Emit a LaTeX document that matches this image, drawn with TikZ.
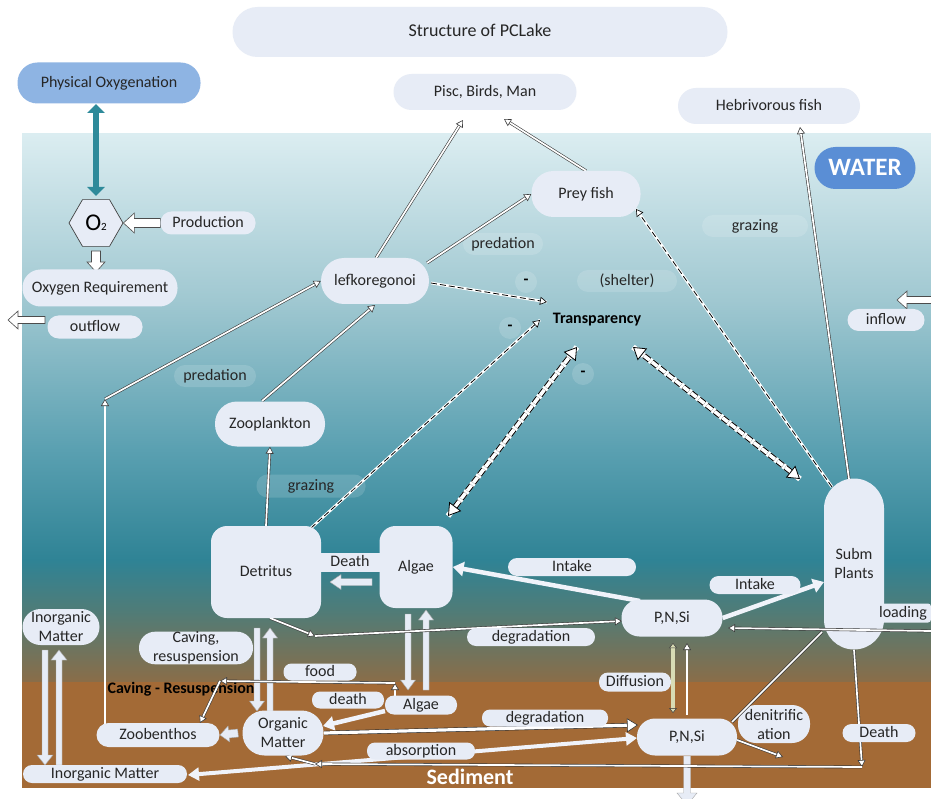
\documentclass[tikz,border=0pt]{standalone}
\usepackage{fontspec}
\setmainfont{Carlito}
\usetikzlibrary{calc,shapes.geometric,arrows.meta}
\definecolor{boxc}{HTML}{E7ECF6}
\definecolor{physc}{HTML}{8EB4E3}
\definecolor{waterc}{HTML}{5A8ED5}
\definecolor{txtc}{HTML}{262626}
\definecolor{linec}{HTML}{3C3C3C}
\definecolor{tealc}{HTML}{2E8A9A}
\definecolor{arrw}{HTML}{F0F3FA}
\definecolor{diffc}{HTML}{D8DCB4}
\definecolor{sedc}{HTML}{A36A36}
\definecolor{w1}{HTML}{DBEDF1}
\definecolor{w2}{HTML}{A0C8D1}
\definecolor{w3}{HTML}{5AA0B1}
\definecolor{w4}{HTML}{2F8395}
\definecolor{w5}{HTML}{4F7C78}
\definecolor{w6}{HTML}{8A6D48}
\pgfdeclareverticalshading{waterbg}{100bp}{color(0bp)=(w6); color(25bp)=(w6); color(31.57bp)=(w5); color(36.13bp)=(w4); color(46.17bp)=(w3); color(59.85bp)=(w2); color(75bp)=(w1); color(100bp)=(w1)}
\pgfdeclarelayer{bg}\pgfdeclarelayer{conn}\pgfdeclarelayer{top}
\pgfsetlayers{bg,conn,main,top}
\newcommand\blkarr[6][]{\draw[#1] ($(#2)!#4!90:(#3)$) -- ($(#3)!#6!(#2)!#4!-90:(#2)$) -- ($(#3)!#6!(#2)!#5!-90:(#2)$) -- (#3) -- ($(#3)!#6!(#2)!#5!90:(#2)$) -- ($(#3)!#6!(#2)!#4!90:(#2)$) -- ($(#2)!#4!-90:(#3)$) -- cycle;}
\tikzset{
 every node/.style={text=txtc, font=\fontsize{16}{19}\selectfont},
 sz/.style 2 args={minimum width=#1pt, minimum height=#2pt},
 box/.style={fill=boxc, rounded corners=#1, inner sep=0pt, text height=12pt, text depth=3pt},
 box/.default=9pt,
 mbox/.style={fill=boxc, rounded corners=#1, inner sep=0pt, align=center},
 faint/.style={fill=white, fill opacity=0.14, text opacity=1, rounded corners=11pt, inner sep=0pt, text height=12pt, text depth=3pt},
 minus/.style={circle, fill=white, fill opacity=0.14, text opacity=1, minimum size=22pt, inner sep=0pt, text=black, font=\fontsize{16}{19}\selectfont\bfseries},
 flow/.style={draw=linec, line width=0.6pt, double=white, double distance=1.7pt, -{Triangle[open, fill=white, length=7pt, width=8pt, line width=0.6pt]}},
 flowl/.style={draw=linec, line width=0.6pt, double=white, double distance=1.7pt},
 dflow/.style={draw=black, line width=0.8pt, dash pattern=on 6pt off 3pt, preaction={draw=white, line width=2.8pt, solid, -}, -{Triangle[open, fill=white, length=7pt, width=8pt, line width=0.6pt]}},
 tdflow/.style={draw=black, line width=1pt, dash pattern=on 7pt off 3pt, double=white, double distance=3.6pt, preaction={draw=white, line width=5.6pt, solid, -}, {Triangle[open, fill=white, length=12pt, width=15pt, line width=0.8pt]}-{Triangle[open, fill=white, length=12pt, width=15pt, line width=0.8pt]}},
 tealarr/.style={draw=tealc, line width=6pt, {Triangle[length=9pt, width=17pt]}-{Triangle[length=9pt, width=17pt]}},
 warr/.style={draw=arrw, line width=4.5pt, -{Triangle[length=11pt, width=14pt]}},
 wdarr/.style={draw=arrw, line width=4pt, {Triangle[length=11pt, width=13pt]}-{Triangle[length=11pt, width=13pt]}},
 harr/.style={draw=black!80, line width=0.6pt, double=white, double distance=3.2pt, -{Triangle[open, fill=white, length=11pt, width=14pt, line width=0.6pt]}},
 dff/.style={draw=linec, line width=0.5pt, double=diffc, double distance=3.4pt, {Triangle[open, fill=diffc, length=5pt, width=8pt, line width=0.5pt]}-{Triangle[open, fill=diffc, length=5pt, width=8pt, line width=0.5pt]}},
 blkw/.style={fill=white, draw=black!70, line width=0.6pt},
 blkl/.style={fill=boxc, draw=black!35, line width=0.4pt},
}
\begin{document}
\begin{tikzpicture}[x=1pt, y=-1pt]
\useasboundingbox (0,0) rectangle (931,799);
\begin{pgfonlayer}{bg}
\fill[white] (0,0) rectangle (931,799);
\shade[shading=waterbg] (22,134) rectangle (931,682);
\fill[sedc] (22,682) rectangle (931,788);
\node[font=\fontsize{16}{19}\selectfont\bfseries, text=black] (cavres) at (181,689) {Caving - Resuspension};
\node[font=\fontsize{22}{26}\selectfont\bfseries, text=white] (sed) at (470,777) {Sediment};
\end{pgfonlayer}

% nodes
\node[box=25pt, sz={495}{50}, font=\fontsize{18}{21}\selectfont] (title) at (480,32) {Structure of PCLake};
\node[box=20pt, sz={183}{41}, fill=physc] (physox) at (109,83) {Physical Oxygenation};
\node[regular polygon, regular polygon sides=6, minimum size=54pt, inner sep=0pt, fill=boxc, draw=black!75, line width=0.7pt, text=black] (o2) at (96,223) {{\fontsize{24}{24}\selectfont O}{\fontsize{11}{11}\selectfont 2}};
\node[box=11pt, sz={95}{23}] (prod) at (208,223) {Production};
\node[box=18pt, sz={155}{37}] (oxreq) at (100,288) {Oxygen Requirement};
\node[box=11pt, sz={95}{23}] (outflow) at (95,327) {outflow};
\node[box=18pt, sz={183}{36}] (pisc) at (485,92) {Pisc, Birds, Man};
\node[box=18pt, sz={182}{36}] (hebr) at (769,106) {Hebrivorous fish};
\node[box=21pt, sz={101}{42}, fill=waterc, text=white, font=\fontsize{25}{28}\selectfont\bfseries, text height=17pt, text depth=1pt] (water) at (865,168) {WATER};
\node[box=22pt, sz={109}{46}] (prey) at (586,194) {Prey fish};
\node[faint, sz={106}{22}] (grazR) at (755,226) {grazing};
\node[faint, sz={80}{22}] (predT) at (503,244) {predation};
\node[box=23pt, sz={108}{46}] (lefk) at (375,281) {lefkoregonoi};
\node[minus] (m1) at (526,282) {-};
\node[faint, sz={100}{22}] (shelter) at (627,281) {(shelter)};
\node[minus] (m2) at (510,328) {-};
\node[font=\fontsize{16}{19}\selectfont\bfseries, text=black] (transp) at (597,320) {Transparency};
\node[minus] (m3) at (583,374) {-};
\node[box=11pt, sz={77}{22}] (inflow) at (886,320) {inflow};
\node[faint, sz={82}{22}] (predL) at (215,376) {predation};
\node[box=22pt, sz={110}{45}] (zoo) at (270,424) {Zooplankton};
\node[faint, sz={109}{23}] (grazL) at (311,486) {grazing};
\node[box=16pt, sz={110}{92}] (det) at (266,572) {Detritus};
\node[box=16pt, sz={73}{82}] (alg) at (416,567) {Algae};
\node[fill=boxc, sz={60}{19}, inner sep=0pt, text height=12pt, text depth=3pt] (deathA) at (350,562) {Death};
\node[box=9pt, sz={128}{18}] (intakeL) at (572,567) {Intake};
\node[box=18pt, sz={101}{37}] (pnsiU) at (672,618) {P,N,Si};
\node[box=9pt, sz={91}{18}] (intakeR) at (755,585) {Intake};
\node[mbox=30pt, sz={60}{171}] (subm) at (854,564) {Subm\\Plants};
\node[box=3pt, sz={56}{19}] (loading) at (903,613) {loading};
\node[box=9pt, sz={128}{18}] (degrU) at (531,637) {degradation};
\node[mbox=16pt, sz={114}{32}] (caving) at (196,648) {Caving,\\resuspension};
\node[box=8pt, sz={73}{17}] (food) at (320,672) {food};
\node[box=9pt, sz={72}{19}] (diff) at (635,682) {Diffusion};
\node[box=8pt, sz={72}{17}] (death2) at (348,700) {death};
\node[box=9pt, sz={72}{19}] (alg2) at (421,705) {Algae};
\node[box=8pt, sz={126}{17}] (degrL) at (545,718) {degradation};
\node[mbox=22pt, sz={81}{45}] (orgm) at (283,733) {Organic\\Matter};
\node[box=12pt, sz={123}{24}] (zoob) at (158,735) {Zoobenthos};
\node[mbox=18pt, sz={72}{38}] (denit) at (774,724) {denitrific\\ation};
\node[box=9pt, sz={73}{18}] (death3) at (879,733) {Death};
\node[box=18pt, sz={100}{37}] (pnsiL) at (687,737) {P,N,Si};
\node[box=8pt, sz={108}{17}] (absorp) at (421,751) {absorption};
\node[mbox=18pt, sz={77}{36}] (inorgT) at (61,627) {Inorganic\\Matter};
\node[box=9pt, sz={164}{18}] (inorgB) at (105,774) {Inorganic Matter};

% helper coordinates
\coordinate (o2s) at ($(o2)+(0,28)$);
\coordinate (oxn) at ($(oxreq)+(-4,-16)$);
\coordinate (ob) at ($(outflow)+(-50,-7)$);
\coordinate (oe) at ($(outflow)+(-87,-7)$);
\coordinate (ib) at ($(inflow)+(46,-20)$);
\coordinate (ie) at ($(inflow)+(11,-20)$);
\coordinate (da) at ($(alg)+(-44,15)$);
\coordinate (dd) at ($(det)+(64,10)$);
\coordinate (do1) at ($(det)+(-9,56)$);
\coordinate (do2) at ($(orgm)+(-26,-22)$);
\coordinate (od1) at ($(orgm)+(-13,-22)$);
\coordinate (od2) at ($(det)+(4,56)$);
\coordinate (aa1) at ($(alg)+(-8,47)$);
\coordinate (aa2) at ($(alg2)+(-13,-15)$);
\coordinate (ab1) at ($(alg2)+(5,-15)$);
\coordinate (ab2) at ($(alg)+(10,43)$);
\coordinate (oz1) at ($(orgm)+(-45,0)$);
\coordinate (oz2) at ($(zoob)+(62,0)$);
\coordinate (pd1) at ($(pnsiL)+(0,19)$);
\coordinate (pd2) at ($(pnsiL)+(0,68)$);
\coordinate (ii1) at ($(inorgT)+(-16,23)$);
\coordinate (ii2) at ($(inorgB)+(-60,-9)$);
\coordinate (ij1) at ($(inorgB)+(-46,-9)$);
\coordinate (ij2) at ($(inorgT)+(-2,23)$);
\coordinate (zb1) at ($(zoob)+(-53,-336)$);
\coordinate (redge) at ($(loading)+(28,18)$);
\coordinate (dc1) at ($(det)+(49,64)$);
\coordinate (f1) at ($(alg2)+(-26,-22)$);
\coordinate (f2) at ($(zoob)+(62,-54)$);
\coordinate (dc) at ($(subm)+(8,203)$);
\coordinate (c3) at ($(orgm)+(32,31)$);
\coordinate (dn) at ($(pnsiL)+(96,20)$);

\begin{pgfonlayer}{conn}
\draw[tealarr] ($(physox)+(-13,21)$) -- ($(o2)+(0,-27)$);
\blkarr[blkw]{prod.west}{o2.east}{4.5pt}{10pt}{11pt}
\blkarr[blkw]{o2s}{oxn}{4.5pt}{9pt}{10pt}
\blkarr[blkw]{ob}{oe}{3.5pt}{9pt}{10pt}
\blkarr[blkw]{ib}{ie}{3.5pt}{9pt}{10pt}
\blkarr[blkl]{da}{dd}{3.5pt}{7.5pt}{11pt}
\blkarr[blkl]{do1}{do2}{3pt}{7.5pt}{10pt}
\blkarr[blkl]{od1}{od2}{3pt}{7.5pt}{10pt}
\blkarr[blkl]{aa1}{aa2}{3pt}{7.5pt}{10pt}
\blkarr[blkl]{ab1}{ab2}{3pt}{7.5pt}{10pt}
\blkarr[blkl]{oz1}{oz2}{4pt}{8pt}{9pt}
\blkarr[blkl]{pd1}{pd2}{3.5pt}{10pt}{12pt}
\blkarr[blkl]{ii1}{ii2}{3pt}{8pt}{10pt}
\blkarr[blkl]{ij1}{ij2}{3pt}{8pt}{10pt}

\draw[flow] ($(lefk)+(1,-23)$) -- ($(pisc)+(-22,28)$);
\draw[flow] ($(lefk)+(52,-18)$) -- (prey.west);
\draw[flow] (prey.north) -- ($(pisc)+(19,27)$);
\draw[flow] ($(subm)+(-5,-85)$) -- ($(hebr)+(31,21)$);
\draw[dflow] ($(subm)+(-22,-77)$) -- ($(prey)+(50,15)$);
\draw[dflow] ($(lefk)+(56,2)$) -- ($(transp)+(-50,-18)$);
\draw[dflow] ($(det)+(45,-44)$) -- ($(transp)+(-57,0)$);
\draw[tdflow] ($(alg)+(32,-51)$) -- ($(transp)+(-20,27)$);
\draw[tdflow] ($(subm)+(-54,-85)$) -- ($(transp)+(36,27)$);
\draw[flow] ($(zoo)+(-8,-23)$) -- ($(lefk)+(0,24)$);
\draw[flow] ($(zoob)+(-53,-9)$) -- (zb1);
\draw[flow] (zb1) -- (lefk.west);
\draw[flow] (det.north) -- (zoo.south);
\draw[warr] ($(pnsiU)+(-32,-17)$) -- (alg.east);
\draw[warr] (pnsiU.east) -- ($(subm)+(-30,18)$);
\draw[flow] ($(det)+(4,46)$) -- (dc1);
\draw[flow] (dc1) -- ($(pnsiU)+(-50,3)$);
\draw[flow] ($(alg2)+(-26,-8)$) -- (f1);
\draw[flow] (f1) -- (f2);
\draw[flow] (f2) -- ($(zoob)+(42,-12)$);
\draw[warr] ($(alg2)+(-36,6)$) -- ($(orgm)+(40,-7)$);
\draw[harr] ($(orgm)+(41,0)$) -- ($(pnsiL)+(-49,-12)$);
\draw[wdarr] ($(inorgB)+(83,1)$) -- ($(pnsiL)+(-50,1)$);
\draw[flow] (subm.south) -- (dc);
\draw[flow] (dc) -- (c3);
\draw[flow] (c3) -- ($(orgm)+(2,23)$);
\draw[flow] ($(pnsiL)+(50,3)$) -- (dn);
\draw[dff] ($(pnsiU)+(1,25)$) -- ($(pnsiL)+(-14,-24)$);
\draw[flow] ($(pnsiL)+(0,-22)$) -- ($(pnsiU)+(15,25)$);
\end{pgfonlayer}
\begin{pgfonlayer}{top}
\draw[flow] (redge) -- ($(pnsiU)+(56,10)$);
\draw[flowl] ($(pnsiL)+(45,-15)$) -- ($(subm)+(-32,68)$);
\end{pgfonlayer}
\end{tikzpicture}
\end{document}
